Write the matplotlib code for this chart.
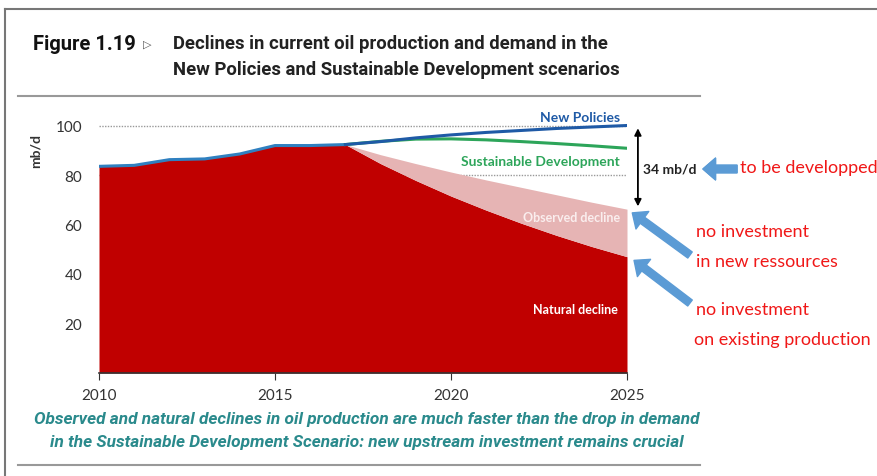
import matplotlib.pyplot as plt
from matplotlib.lines import Line2D

# dados (mb/d)
anos_hist = [2010, 2011, 2012, 2013, 2014, 2015, 2016, 2017]
producao_hist = [83.5, 83.9, 86.2, 86.5, 88.5, 91.9, 91.9, 92.3]

anos_proj = [2017, 2018, 2019, 2020, 2021, 2022, 2023, 2024, 2025]
new_policies = [92.3, 93.5, 95.0, 96.2, 97.2, 98.0, 98.8, 99.4, 100.0]
sustainable = [92.3, 93.6, 94.5, 94.6, 94.2, 93.5, 92.7, 91.8, 90.8]
observed = [92.3, 88.2, 84.6, 81.2, 78.0, 75.0, 72.0, 69.0, 66.2]
natural = [92.3, 84.6, 77.8, 71.5, 65.8, 60.5, 55.6, 51.1, 47.0]

x_ticks = [2010, 2015, 2020, 2025]
y_ticks = [20, 40, 60, 80, 100]

W, H = 878, 477


def fx(px):
    return px / W


def fy(py):
    return 1 - py / H


fig = plt.figure(figsize=(8.78, 4.77), dpi=100)
ax = fig.add_axes([fx(99), fy(374), (627 - 99) / W, 105 * 2.475 / H])

# area vermelha = historico + declinio natural (uma so pra nao ficar emenda)
anos_red = anos_hist + anos_proj[1:]
valores_red = producao_hist + natural[1:]
ax.fill_between(anos_red, 0, valores_red, color="#C00000", lw=0, zorder=2)
ax.fill_between(anos_proj, natural, observed, color="#E6B4B4", lw=0, zorder=2)

# linhas pontilhadas de referencia
ax.axhline(100, color="#999999", lw=1, ls=(0, (1, 1)), zorder=1)
ax.axhline(80, color="#999999", lw=1, ls=(0, (1, 1)), zorder=1)

# linhas de demanda
ax.plot(anos_hist, producao_hist, color="#2F80C0", lw=2.2, zorder=3)
ax.plot(anos_proj, sustainable, color="#2DA55A", lw=2.2, zorder=3)
ax.plot(anos_proj, new_policies, color="#1F5AA6", lw=2.2, zorder=4)

ax.set_xlim(2010, 2025)
ax.set_ylim(0, 105)
ax.set_xticks(x_ticks)
ax.set_yticks(y_ticks)
for s in ["top", "right", "left"]:
    ax.spines[s].set_visible(False)
ax.spines["bottom"].set_color("#333333")
ax.spines["bottom"].set_linewidth(1.2)
ax.tick_params(axis="y", length=0, pad=12, labelsize=11, labelcolor="#333333")
ax.tick_params(axis="x", length=5, pad=6, labelsize=11, labelcolor="#333333", color="#333333")
for lab in ax.get_xticklabels() + ax.get_yticklabels():
    lab.set_family("Lato")
ax.set_ylabel("mb/d", fontsize=10, fontweight="bold", family="Lato", color="#333333")
ax.yaxis.set_label_coords(-0.108, 0.86)

# rotulos dentro do grafico
ax.text(2024.8, 103.5, "New Policies", color="#1F5AA6", fontsize=10, fontweight="bold",
        family="Lato", ha="right", va="center")
ax.text(2024.8, 85.5, "Sustainable Development", color="#2DA55A", fontsize=10, fontweight="bold",
        family="Lato", ha="right", va="center")
ax.text(2024.8, 63.0, "Observed decline", color="#FAEEEE", fontsize=9, fontweight="bold",
        family="Lato", ha="right", va="center", zorder=5)
ax.text(2024.75, 25.8, "Natural decline", color="white", fontsize=9, fontweight="bold",
        family="Lato", ha="right", va="center", zorder=5)

# seta dupla 34 mb/d
ax.annotate("", xy=(2025.31, observed[-1]), xytext=(2025.31, new_policies[-1]),
            arrowprops=dict(arrowstyle="<|-|>", color="black", lw=1.3, mutation_scale=10),
            annotation_clip=False)
ax.text(2025.45, 82.5, "34 mb/d", fontsize=10, fontweight="bold", family="Lato",
        color="#222222", ha="left", va="center")

# setas azuis e textos em vermelho
azul = "#5B9BD5"
seta = dict(arrowstyle="simple,head_length=0.75,head_width=1.3,tail_width=0.45",
            color=azul, mutation_scale=12, shrinkA=0, shrinkB=0)
fig.add_artist(plt.annotate("", xy=(fx(703), fy(170)), xytext=(fx(737), fy(170)),
                            xycoords="figure fraction", arrowprops=seta))
ax.annotate("", xy=(2025.15, observed[-1] - 1.5), xytext=(fx(690), fy(256)),
            textcoords="figure fraction", arrowprops=seta, annotation_clip=False)
ax.annotate("", xy=(2025.2, natural[-1] - 1.5), xytext=(fx(690), fy(304)),
            textcoords="figure fraction", arrowprops=seta, annotation_clip=False)

vermelho = "#F01818"
fig.text(fx(740), fy(168), "to be developped", color=vermelho, fontsize=13, family="Lato", va="center")
fig.text(fx(696), fy(232), "no investment", color=vermelho, fontsize=13, family="Lato", va="center")
fig.text(fx(696), fy(262), "in new ressources", color=vermelho, fontsize=13, family="Lato", va="center")
fig.text(fx(696), fy(310), "no investment", color=vermelho, fontsize=13, family="Lato", va="center")
fig.text(fx(694), fy(340), "on existing production", color=vermelho, fontsize=13, family="Lato", va="center")

# titulo
fig.text(fx(33), fy(45), "Figure 1.19", fontsize=14.5, fontweight="bold", family="Roboto",
         color="#111111", va="center")
fig.text(fx(143), fy(45), "\u25b7", fontsize=8, family="DejaVu Sans", color="#555555", va="center")
fig.text(fx(173), fy(44), "Declines in current oil production and demand in the",
         fontsize=13.3, fontweight="bold", family="Roboto", color="#222222", va="center")
fig.text(fx(173), fy(70), "New Policies and Sustainable Development scenarios",
         fontsize=13.3, fontweight="bold", family="Roboto", color="#222222", va="center")

# legenda de baixo
teal = "#2A8A8C"
fig.text(fx(367), fy(420), "Observed and natural declines in oil production are much faster than the drop in demand",
         fontsize=12.4, fontweight="bold", style="italic", family="Roboto", color=teal, ha="center", va="center")
fig.text(fx(367), fy(442), "in the Sustainable Development Scenario: new upstream investment remains crucial",
         fontsize=12.4, fontweight="bold", style="italic", family="Roboto", color=teal, ha="center", va="center")

# linhas cinzas e moldura
fig.add_artist(Line2D([fx(18), fx(700)], [fy(97), fy(97)], color="#999999", lw=1.5))
fig.add_artist(Line2D([fx(18), fx(700)], [fy(466), fy(466)], color="#999999", lw=1.5))
fig.add_artist(Line2D([fx(5), 1], [fy(10), fy(10)], color="#777777", lw=1.5))
fig.add_artist(Line2D([fx(5), fx(5)], [fy(10), 0], color="#777777", lw=1.5))

plt.savefig("out.png", dpi=100)
